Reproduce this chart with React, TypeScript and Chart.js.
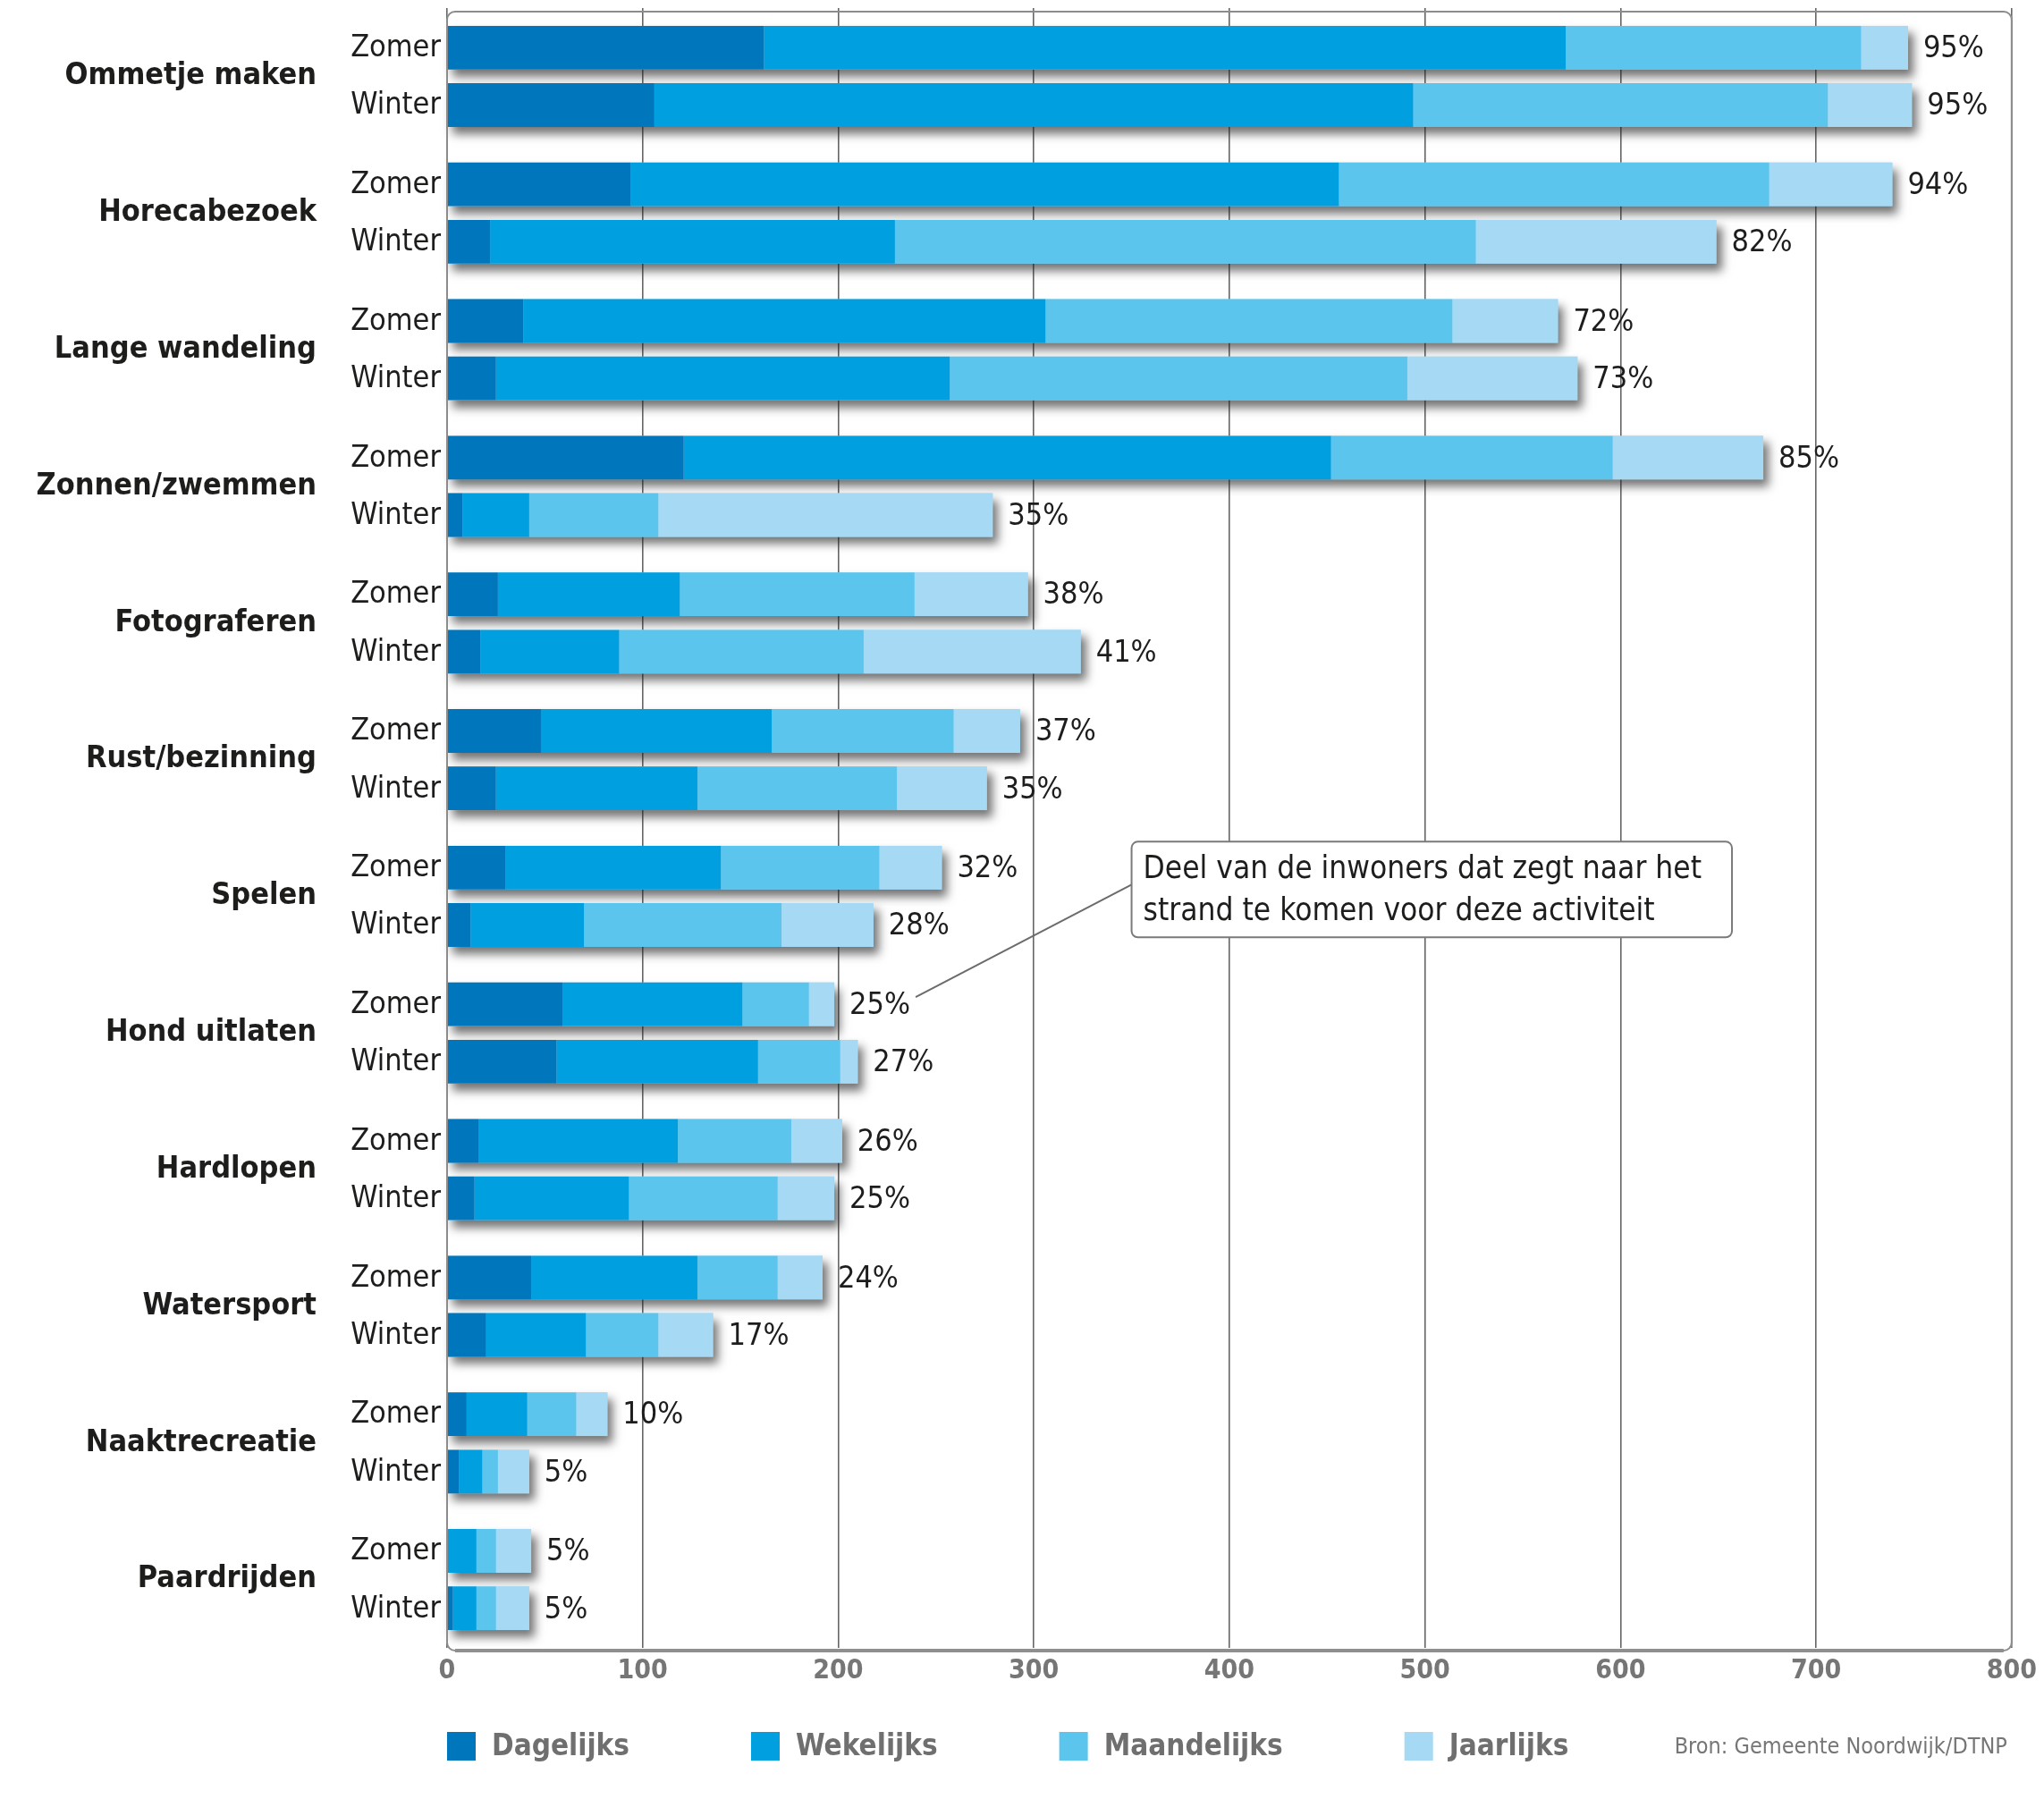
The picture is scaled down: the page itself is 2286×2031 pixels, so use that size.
import { useEffect, useRef } from 'react';
import { Chart, registerables } from 'chart.js';

Chart.register(...registerables);

// ---------- data ----------
const activities = [
  'Ommetje maken',
  'Horecabezoek',
  'Lange wandeling',
  'Zonnen/zwemmen',
  'Fotograferen',
  'Rust/bezinning',
  'Spelen',
  'Hond uitlaten',
  'Hardlopen',
  'Watersport',
  'Naaktrecreatie',
  'Paardrijden',
];
const seasons = ['Zomer', 'Winter'];
const frequencies = ['Dagelijks', 'Wekelijks', 'Maandelijks', 'Jaarlijks'];

const zomerDagelijks = [162, 94, 39, 121, 26, 48, 30, 59, 16, 43, 10, 0];
const zomerWekelijks = [410, 362, 267, 331, 93, 118, 110, 92, 102, 85, 31, 15];
const zomerMaandelijks = [151, 220, 208, 144, 120, 93, 81, 34, 58, 41, 25, 10];
const zomerJaarlijks = [24, 63, 54, 77, 58, 34, 32, 13, 26, 23, 16, 18];

const winterDagelijks = [106, 22, 25, 8, 17, 25, 12, 56, 14, 20, 6, 3];
const winterWekelijks = [388, 207, 232, 34, 71, 103, 58, 103, 79, 51, 12, 12];
const winterMaandelijks = [212, 297, 234, 66, 125, 102, 101, 42, 76, 37, 8, 10];
const winterJaarlijks = [43, 123, 87, 171, 111, 46, 47, 9, 29, 28, 16, 17];

const zomerPercent = [95, 94, 72, 85, 38, 37, 32, 25, 26, 24, 10, 5];
const winterPercent = [95, 82, 73, 35, 41, 35, 28, 27, 25, 17, 5, 5];

const xTickValues = [0, 100, 200, 300, 400, 500, 600, 700, 800];

const noteLines = [
  'Deel van de inwoners dat zegt naar het',
  'strand te komen voor deze activiteit',
];
const sourceText = 'Bron: Gemeente Noordwijk/DTNP';

// ---------- styling ----------
const FONT = '"DejaVu Sans Condensed", "Liberation Sans Narrow", "Arial Narrow", "DejaVu Sans", sans-serif';
const colors = ['#0076bc', '#009fe0', '#5cc5ed', '#a6daf4'];
const TEXT = '#1d1d1b';
const GRAY = '#767676';

const seriesBySeason = [
  [zomerDagelijks, zomerWekelijks, zomerMaandelijks, zomerJaarlijks],
  [winterDagelijks, winterWekelijks, winterMaandelijks, winterJaarlijks],
];
const percentBySeason = [zomerPercent, winterPercent];

// annotation placement (axis units)
const noteBox = { xFrom: 350, xTo: 657, yFrom: 5.6, yTo: 6.3 };
const noteTarget = { category: 7, season: 0 };

function totalOf(s: number, i: number) {
  return seriesBySeason[s].reduce((a, arr) => a + arr[i], 0);
}

function roundRect(ctx: CanvasRenderingContext2D, x: number, y: number, w: number, h: number, r: number) {
  ctx.beginPath();
  ctx.moveTo(x + r, y);
  ctx.lineTo(x + w - r, y);
  ctx.arcTo(x + w, y, x + w, y + r, r);
  ctx.lineTo(x + w, y + h - r);
  ctx.arcTo(x + w, y + h, x + w - r, y + h, r);
  ctx.lineTo(x + r, y + h);
  ctx.arcTo(x, y + h, x, y + h - r, r);
  ctx.lineTo(x, y + r);
  ctx.arcTo(x, y, x + r, y, r);
  ctx.closePath();
}

function barGeom(chart: any, s: number, i: number) {
  const meta = chart.getDatasetMeta(s * frequencies.length);
  const el = meta.data[i];
  const xScale = chart.scales.x;
  return {
    y: el.y,
    h: el.height,
    x0: xScale.getPixelForValue(0),
    x1: xScale.getPixelForValue(totalOf(s, i)),
  };
}

const shadowPlugin = {
  id: 'barShadow',
  beforeDatasetsDraw(chart: any) {
    const ctx = chart.ctx as CanvasRenderingContext2D;
    activities.forEach((_, i) => {
      seasons.forEach((__, s) => {
        const g = barGeom(chart, s, i);
        ctx.save();
        ctx.shadowColor = 'rgba(30,30,30,0.62)';
        ctx.shadowBlur = 10;
        ctx.shadowOffsetX = 6;
        ctx.shadowOffsetY = 8;
        ctx.fillStyle = colors[3];
        ctx.fillRect(g.x0, g.y - g.h / 2, g.x1 - g.x0, g.h);
        ctx.restore();
      });
    });
  },
};

const labelPlugin = {
  id: 'barLabels',
  afterDatasetsDraw(chart: any) {
    const ctx = chart.ctx as CanvasRenderingContext2D;
    const area = chart.chartArea;
    const xScale = chart.scales.x;
    const yScale = chart.scales.y;
    ctx.save();
    ctx.fillStyle = TEXT;
    ctx.font = `34px ${FONT}`;
    ctx.textBaseline = 'middle';
    let target = { x: 0, y: 0 };
    activities.forEach((_, i) => {
      seasons.forEach((season, s) => {
        const g = barGeom(chart, s, i);
        ctx.textAlign = 'right';
        ctx.fillText(season, area.left - 7, g.y + 1);
        ctx.textAlign = 'left';
        const txt = `${percentBySeason[s][i]}%`;
        ctx.fillText(txt, g.x1 + 17, g.y + 2);
        if (i === noteTarget.category && s === noteTarget.season) {
          target = { x: g.x1 + 17 + ctx.measureText(txt).width + 6, y: g.y - 8 };
        }
      });
    });

    // annotation box
    const bx0 = xScale.getPixelForValue(noteBox.xFrom);
    const bx1 = xScale.getPixelForValue(noteBox.xTo);
    const step = yScale.getPixelForValue(1) - yScale.getPixelForValue(0);
    const by0 = yScale.getPixelForValue(0) + step * noteBox.yFrom;
    const by1 = yScale.getPixelForValue(0) + step * noteBox.yTo;
    ctx.beginPath();
    ctx.moveTo(target.x, target.y);
    ctx.lineTo(bx0, by0 + (by1 - by0) * 0.45);
    ctx.strokeStyle = '#6b6b6b';
    ctx.lineWidth = 2;
    ctx.stroke();
    roundRect(ctx, bx0, by0, bx1 - bx0, by1 - by0, 7);
    ctx.fillStyle = '#ffffff';
    ctx.fill();
    ctx.strokeStyle = '#7a7a7a';
    ctx.lineWidth = 2;
    ctx.stroke();
    ctx.fillStyle = TEXT;
    ctx.textAlign = 'left';
    ctx.font = `35px ${FONT}`;
    const lh = (by1 - by0) / (noteLines.length + 0.25);
    noteLines.forEach((line, k) => {
      ctx.fillText(line, bx0 + 13, by0 + lh * (k + 0.62) + 2);
    });
    ctx.restore();
  },
};

const framePlugin = {
  id: 'frame',
  afterDraw(chart: any) {
    const ctx = chart.ctx as CanvasRenderingContext2D;
    const a = chart.chartArea;
    ctx.save();
    roundRect(ctx, a.left, a.top + 4, a.right - a.left, a.bottom - a.top - 1, 9);
    ctx.strokeStyle = '#8c8c8c';
    ctx.lineWidth = 2;
    ctx.stroke();
    ctx.beginPath();
    ctx.moveTo(a.left + 9, a.bottom + 3);
    ctx.lineTo(a.right - 9, a.bottom + 3);
    ctx.strokeStyle = '#8f8f8f';
    ctx.lineWidth = 4;
    ctx.stroke();
    ctx.restore();
  },
};

const legendPlugin = {
  id: 'customLegend',
  afterDraw(chart: any) {
    const ctx = chart.ctx as CanvasRenderingContext2D;
    const a = chart.chartArea;
    const cy = a.bottom + 110;
    ctx.save();
    ctx.textBaseline = 'middle';
    ctx.textAlign = 'left';
    let x = a.left;
    frequencies.forEach((label, f) => {
      const ds = chart.data.datasets[f];
      ctx.fillStyle = ds.backgroundColor;
      ctx.fillRect(x, cy - 16, 32, 32);
      ctx.fillStyle = '#6f6f6f';
      ctx.font = `bold 33px ${FONT}`;
      ctx.fillText(label, x + 50, cy + 1);
      x += 50 + ctx.measureText(label).width + 136;
    });
    ctx.fillStyle = GRAY;
    ctx.font = `25px ${FONT}`;
    ctx.textAlign = 'right';
    ctx.fillText(sourceText, a.right - 5, cy + 1);
    ctx.restore();
  },
};

export default function App() {
  const ref = useRef<HTMLCanvasElement>(null);

  useEffect(() => {
    document.body.style.margin = '0';
    const canvas = ref.current!;
    const datasets: any[] = [];
    seasons.forEach((season, s) => {
      frequencies.forEach((freq, f) => {
        datasets.push({
          label: freq,
          data: seriesBySeason[s][f],
          backgroundColor: colors[f],
          borderWidth: 0,
          stack: season,
          categoryPercentage: 0.84,
          barPercentage: 0.76,
        });
      });
    });

    const chart = new Chart(canvas, {
      type: 'bar',
      data: { labels: activities, datasets },
      plugins: [shadowPlugin, labelPlugin, framePlugin, legendPlugin],
      options: {
        indexAxis: 'y',
        responsive: false,
        animation: false,
        events: [],
        layout: { padding: { top: 9, right: 36, left: 0, bottom: 0 } },
        plugins: {
          legend: { display: false },
          tooltip: { enabled: false },
          title: { display: false },
        },
        scales: {
          x: {
            type: 'linear',
            stacked: true,
            min: 0,
            max: 800,
            afterBuildTicks(scale: any) {
              scale.ticks = xTickValues.map((v) => ({ value: v }));
            },
            afterFit(scale: any) {
              scale.height = 2031 - 1843;
            },
            grid: { color: '#666666', lineWidth: 1.6, drawTicks: false },
            border: { display: false },
            ticks: {
              padding: 8,
              color: GRAY,
              font: { family: FONT, size: 30, weight: 'bold' },
            },
          },
          y: {
            type: 'category',
            stacked: true,
            afterFit(scale: any) {
              scale.width = 500;
              scale.paddingTop = 0;
              scale.paddingBottom = 0;
            },
            grid: { display: false, drawTicks: false },
            border: { display: false },
            ticks: {
              padding: 146,
              color: TEXT,
              font: { family: FONT, size: 34, weight: 'bold' },
            },
          },
        },
      } as any,
    });
    return () => chart.destroy();
  }, []);

  return (
    <canvas
      ref={ref}
      width={2286}
      height={2031}
      style={{ display: 'block', width: '2286px', height: '2031px' }}
    />
  );
}
